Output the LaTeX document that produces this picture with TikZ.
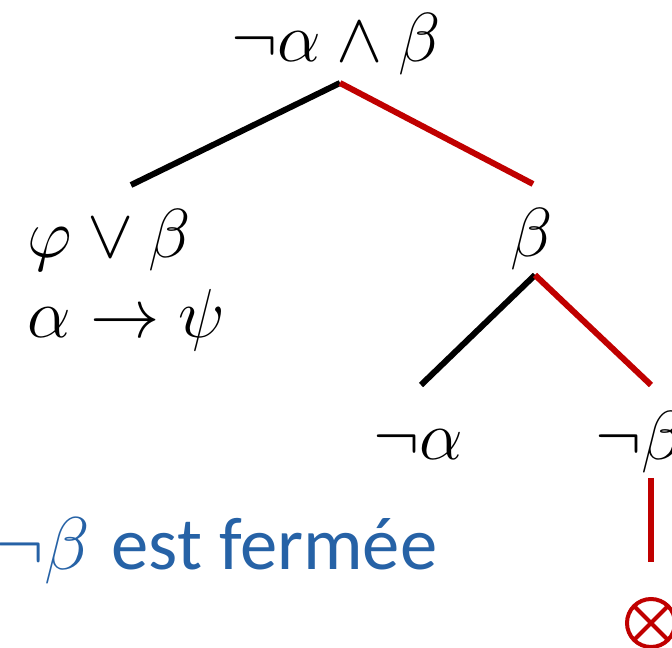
\documentclass[tikz,border=0pt]{standalone}
\usepackage{fix-cm}
\usepackage{fontspec}
\setmainfont{Carlito}
\definecolor{tred}{RGB}{192,0,0}
\definecolor{tblue}{RGB}{38,98,166}
\begin{document}
\begin{tikzpicture}[x=0.75pt,y=-0.75pt,
  lbl/.style={inner sep=0pt,font=\fontsize{52}{60}\selectfont},
  edge/.style={line width=4.5pt},
  redge/.style={edge,draw=tred},
  closed/.style={circle,draw=tred,line width=3pt,minimum size=36pt,inner sep=0pt,
    path picture={\draw[tred,line width=3pt]
      (path picture bounding box.south west) -- (path picture bounding box.north east)
      (path picture bounding box.north west) -- (path picture bounding box.south east);}}]
\useasboundingbox (0,0) rectangle (672,648);
\clip (0,0) rectangle (672,648);
\node[lbl,anchor=base] (root) at (336,62) {$\neg\alpha \land \beta$};
\node[lbl,anchor=base west] (l1) at (27,258) {$\varphi \lor \beta$};
\node[lbl,anchor=base west] (l2) at (27,338) {$\alpha \to \psi$};
\node[lbl,anchor=base] (b) at (532,257) {$\beta$};
\node[lbl,anchor=base west] (na) at (373,460) {$\neg\alpha$};
\node[lbl,anchor=base west] (nb) at (595,460) {$\neg\beta$};
\node[lbl,anchor=base west,text=tblue,font=\fontsize{56}{60}\selectfont] (msg) at (-6,570) {$\neg\beta$\hspace{4pt} est fermée};
\node[closed] (x) at (651,623) {};
\coordinate (r0) at (340,83);
\coordinate (r1) at (131,185);
\coordinate (r2) at (533,184);
\coordinate (b0) at (535,275);
\coordinate (b1) at (421,385);
\coordinate (b2) at (651,385);
\coordinate (c0) at (651,478);
\coordinate (c1) at (651,562);
\draw[edge] (r0) -- (r1);
\draw[redge] (r0) -- (r2);
\draw[edge] (b0) -- (b1);
\draw[redge] (b0) -- (b2);
\draw[redge] (c0) -- (c1);
\end{tikzpicture}
\end{document}
